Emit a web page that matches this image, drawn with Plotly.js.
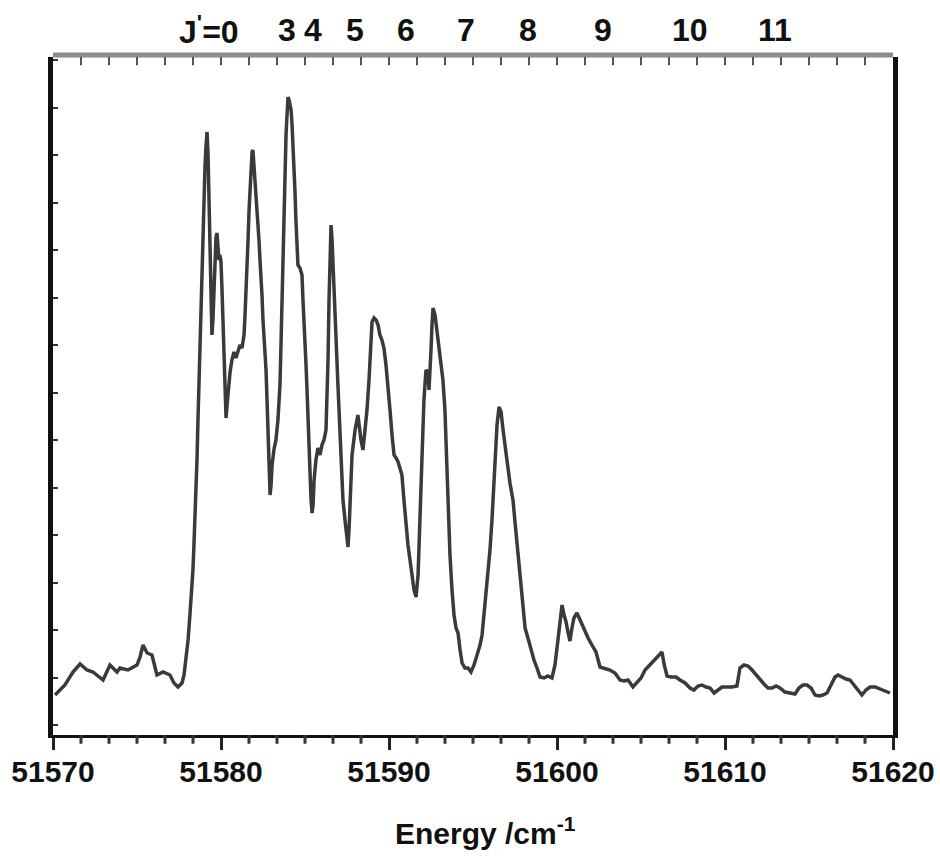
<!DOCTYPE html>
<html>
<head>
<meta charset="utf-8">
<script src="https://cdn.plot.ly/plotly-3.0.1.min.js"></script>
<style>html,body{margin:0;padding:0;background:#fff;}#chart{width:940px;height:856px;}</style>
</head>
<body>
<div id="chart"></div>
<script>
// Energy (cm^-1)
const energy = [
51570.12, 51570.71, 51571.19, 51571.61, 51572.02, 51572.38, 51572.98, 51573.39, 51573.81, 51573.99,
51574.46, 51575.00, 51575.18, 51575.36, 51575.60, 51575.89, 51576.19, 51576.55, 51576.96, 51577.20,
51577.44, 51577.68, 51577.80, 51577.92, 51578.04, 51578.15, 51578.27, 51578.33, 51578.39, 51578.45,
51578.51, 51578.57, 51578.63, 51578.69, 51578.75, 51578.81, 51578.87, 51578.93, 51578.99, 51579.05,
51579.11, 51579.17, 51579.23, 51579.29, 51579.35, 51579.40, 51579.46, 51579.52, 51579.58, 51579.64,
51579.70, 51579.76, 51579.82, 51579.88, 51579.94, 51580.00, 51580.06, 51580.12, 51580.18, 51580.24,
51580.30, 51580.36, 51580.42, 51580.48, 51580.54, 51580.65, 51580.77, 51580.89, 51581.01, 51581.13,
51581.25, 51581.37, 51581.43, 51581.49, 51581.55, 51581.61, 51581.67, 51581.73, 51581.79, 51581.85,
51581.90, 51581.96, 51582.02, 51582.08, 51582.14, 51582.20, 51582.26, 51582.32, 51582.38, 51582.44,
51582.50, 51582.56, 51582.62, 51582.68, 51582.74, 51582.80, 51582.86, 51582.92, 51582.98, 51583.04,
51583.15, 51583.27, 51583.39, 51583.51, 51583.57, 51583.63, 51583.69, 51583.75, 51583.81, 51583.87,
51583.93, 51583.99, 51584.05, 51584.11, 51584.17, 51584.23, 51584.29, 51584.35, 51584.40, 51584.46,
51584.52, 51584.58, 51584.70, 51584.82, 51584.88, 51584.94, 51585.00, 51585.06, 51585.12, 51585.18,
51585.24, 51585.30, 51585.36, 51585.42, 51585.48, 51585.54, 51585.65, 51585.77, 51585.89, 51586.01,
51586.13, 51586.25, 51586.31, 51586.37, 51586.43, 51586.49, 51586.55, 51586.61, 51586.67, 51586.73,
51586.79, 51586.85, 51586.90, 51586.96, 51587.02, 51587.08, 51587.14, 51587.20, 51587.26, 51587.38,
51587.50, 51587.56, 51587.62, 51587.68, 51587.74, 51587.80, 51587.98, 51588.15, 51588.33, 51588.45,
51588.57, 51588.69, 51588.81, 51588.93, 51588.99, 51589.11, 51589.23, 51589.35, 51589.46, 51589.58,
51589.70, 51589.82, 51589.94, 51590.06, 51590.18, 51590.30, 51590.42, 51590.54, 51590.65, 51590.77,
51590.89, 51591.01, 51591.13, 51591.25, 51591.37, 51591.49, 51591.61, 51591.73, 51591.79, 51591.85,
51591.90, 51591.96, 51592.02, 51592.08, 51592.20, 51592.32, 51592.38, 51592.44, 51592.50, 51592.56,
51592.62, 51592.74, 51592.86, 51592.98, 51593.10, 51593.21, 51593.33, 51593.39, 51593.45, 51593.51,
51593.57, 51593.63, 51593.75, 51593.87, 51593.99, 51594.11, 51594.23, 51594.35, 51594.52, 51594.70,
51594.88, 51595.06, 51595.24, 51595.42, 51595.54, 51595.65, 51595.77, 51595.89, 51596.01, 51596.13,
51596.25, 51596.37, 51596.43, 51596.55, 51596.67, 51596.79, 51596.90, 51597.02, 51597.20, 51597.38,
51597.50, 51597.62, 51597.74, 51597.86, 51597.98, 51598.10, 51598.27, 51598.45, 51598.63, 51598.81,
51598.99, 51599.23, 51599.46, 51599.70, 51599.88, 51600.00, 51600.12, 51600.24, 51600.30, 51600.42,
51600.54, 51600.65, 51600.77, 51600.89, 51601.01, 51601.19, 51601.37, 51601.61, 51601.85, 51602.08,
51602.32, 51602.56, 51602.86, 51603.15, 51603.45, 51603.75, 51603.99, 51604.23, 51604.52, 51604.76,
51605.00, 51605.24, 51605.54, 51605.83, 51606.13, 51606.25, 51606.37, 51606.55, 51606.79, 51607.08,
51607.32, 51607.62, 51607.92, 51608.15, 51608.39, 51608.63, 51608.87, 51609.11, 51609.35, 51609.58,
51609.82, 51610.12, 51610.42, 51610.71, 51610.89, 51611.13, 51611.37, 51611.61, 51611.85, 51612.08,
51612.32, 51612.56, 51612.80, 51613.04, 51613.27, 51613.57, 51613.87, 51614.17, 51614.40, 51614.64,
51614.88, 51615.12, 51615.36, 51615.60, 51615.83, 51616.07, 51616.31, 51616.55, 51616.73, 51616.96,
51617.20, 51617.44, 51617.68, 51617.92, 51618.15, 51618.39, 51618.63, 51618.93, 51619.23, 51619.52,
51619.82
];

// Signal intensity (arbitrary units)
const intensity = [
40, 50, 63, 71, 65, 63, 55, 70, 63, 67,
65, 70, 78, 90, 82, 80, 60, 63, 60, 52,
48, 52, 60, 75, 95, 120, 145, 165, 190, 215,
245, 275, 315, 355, 395, 435, 475, 515, 545, 570,
590, 603, 580, 540, 500, 445, 400, 415, 450, 480,
497, 502, 490, 475, 480, 473, 445, 405, 370, 335,
317, 330, 345, 357, 363, 375, 383, 377, 385, 390,
387, 400, 420, 440, 465, 495, 525, 550, 570, 583,
585, 570, 555, 540, 530, 520, 495, 475, 460, 440,
415, 400, 390, 365, 335, 305, 270, 240, 250, 270,
285, 295, 315, 350, 390, 435, 495, 535, 570, 600,
620, 638, 635, 630, 625, 610, 590, 570, 545, 515,
490, 470, 467, 460, 435, 405, 390, 370, 345, 315,
285, 260, 235, 222, 230, 255, 275, 287, 280, 290,
295, 305, 335, 375, 435, 495, 510, 495, 465, 440,
415, 395, 375, 350, 330, 310, 285, 260, 235, 215,
200, 188, 205, 235, 265, 280, 305, 320, 295, 285,
305, 325, 355, 390, 413, 417, 415, 410, 400, 395,
387, 370, 350, 325, 300, 280, 277, 273, 267, 260,
235, 210, 190, 175, 160, 145, 138, 160, 190, 220,
250, 280, 310, 335, 365, 363, 345, 360, 385, 410,
427, 420, 405, 385, 370, 355, 325, 295, 265, 235,
205, 180, 145, 120, 107, 102, 85, 72, 67, 67,
63, 70, 80, 90, 100, 120, 140, 160, 185, 215,
250, 285, 310, 328, 323, 305, 287, 275, 252, 235,
213, 190, 167, 145, 123, 107, 97, 85, 75, 67,
58, 57, 59, 57, 70, 87, 107, 125, 130, 120,
113, 103, 94, 107, 117, 122, 115, 107, 97, 90,
83, 68, 66, 65, 62, 55, 54, 55, 48, 53,
57, 65, 70, 75, 80, 83, 71, 59, 58, 58,
55, 52, 47, 45, 49, 50, 48, 47, 42, 45,
48, 48, 48, 49, 67, 70, 69, 65, 60, 55,
51, 47, 47, 49, 47, 43, 42, 41, 47, 50,
50, 47, 40, 39, 40, 42, 50, 58, 60, 58,
56, 55, 50, 44, 40, 45, 48, 48, 46, 44,
42
];

// Rotational quantum number labels along the top
const jLabels = ["J<sup>'</sup>=0", "3", "4", "5", "6", "7", "8", "9", "10", "11"];
const jPositions = [51579.29, 51583.93, 51585.48, 51587.98, 51591.01, 51594.58, 51598.27, 51602.74, 51607.92, 51612.98];

const xRange = [51570, 51620];
const yRange = [0, 678];

if (energy.length !== intensity.length) {
  throw new Error("length mismatch: " + energy.length + " vs " + intensity.length);
}

// minor tick fractions along the axis: six divisions per major interval of 10
let bottomPath = "";
let topPath = "";
for (let k = 1; k < 30; k++) {
  const f = (k / 30).toFixed(5);
  topPath += "M" + f + ",1 L" + f + ",0.988 ";
  if (k % 6 !== 0) bottomPath += "M" + f + ",0 L" + f + ",-0.013 ";
}

const FONT = "Liberation Sans, Arial, Helvetica, sans-serif";

const traces = [{
  x: energy,
  y: intensity,
  type: "scatter",
  mode: "lines",
  line: {color: "#3a3a3a", width: 3.5},
  hoverinfo: "skip",
  showlegend: false
}];

const annotations = jLabels.map((t, i) => ({
  text: t,
  x: jPositions[i],
  xref: "x",
  y: 1.04,
  yref: "paper",
  showarrow: false,
  xanchor: "center",
  yanchor: "middle",
  font: {family: FONT, size: 32, color: "#111", weight: "bold"}
}));

annotations.push({
  text: "Energy /cm<sup>-1</sup>",
  x: 0.515,
  xref: "paper",
  y: -0.142,
  yref: "paper",
  showarrow: false,
  xanchor: "center",
  yanchor: "middle",
  font: {family: FONT, size: 30, color: "#111", weight: "bold"}
});

const shapes = [
  {type: "line", xref: "paper", yref: "paper", x0: 0, x1: 1, y0: 1.003, y1: 1.003,
   line: {color: "#8c8c8c", width: 5}, layer: "above"},
  {type: "path", xref: "paper", yref: "paper", path: bottomPath,
   line: {color: "#333333", width: 3}, layer: "above"},
  {type: "path", xref: "paper", yref: "paper", path: topPath,
   line: {color: "#555555", width: 2}, layer: "above"}
];

const layout = {
  width: 940,
  height: 856,
  margin: {l: 53, r: 47, t: 57, b: 121},
  paper_bgcolor: "#ffffff",
  plot_bgcolor: "#ffffff",
  showlegend: false,
  xaxis: {
    range: xRange,
    tickmode: "linear",
    tick0: 51570,
    dtick: 10,
    tickformat: "d",
    ticks: "outside",
    ticklen: 12,
    tickwidth: 3,
    tickcolor: "#222",
    ticklabelstandoff: -4,
    showline: true,
    linecolor: "#111",
    linewidth: 3,
    showgrid: false,
    zeroline: false,
    tickfont: {family: FONT, size: 30, color: "#111", weight: "bold"}
  },
  yaxis: {
    range: yRange,
    tickmode: "linear",
    tick0: 10,
    dtick: 47.5,
    ticks: "inside",
    ticklen: 5,
    tickwidth: 2,
    tickcolor: "#333",
    showline: true,
    mirror: true,
    linecolor: "#111",
    linewidth: 5,
    showgrid: false,
    zeroline: false,
    showticklabels: false
  },
  shapes: shapes,
  annotations: annotations
};

Plotly.newPlot("chart", traces, layout, {displayModeBar: false, staticPlot: true});
</script>
</body>
</html>
